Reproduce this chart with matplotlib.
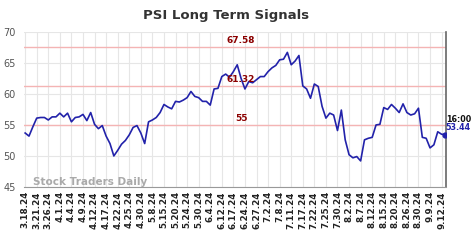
import matplotlib
matplotlib.use("Agg")
import matplotlib.pyplot as plt
import numpy as np

# signal values, one per data point
psi = [53.7, 53.2, 54.7, 56.1, 56.2, 56.2, 55.8, 56.3, 56.3, 56.9,
       56.3, 56.9, 55.5, 56.2, 56.3, 56.7, 55.7, 57.0, 55.1, 54.4,
       54.9, 53.2, 52.0, 50.0, 50.9, 51.9, 52.5, 53.4, 54.6, 54.9,
       53.7, 52.0, 55.5, 55.8, 56.2, 57.0, 58.3, 57.9, 57.6, 58.8,
       58.7, 59.0, 59.4, 60.4, 59.6, 59.4, 58.8, 58.8, 58.2, 60.8,
       60.9, 62.8, 63.2, 62.7, 63.6, 64.7, 62.5, 60.8, 62.0, 61.8,
       62.3, 62.8, 62.8, 63.6, 64.2, 64.6, 65.5, 65.6, 66.7, 64.7,
       65.3, 66.2, 61.3, 60.8, 59.3, 61.6, 61.2, 58.0, 56.1, 56.9,
       56.6, 54.1, 57.4, 52.6, 50.2, 49.7, 49.9, 49.2, 52.6, 52.85,
       53.0, 55.0, 55.1, 57.8, 57.5, 58.3, 57.7, 57.0, 58.4, 57.0,
       56.6, 56.8, 57.7, 53.0, 52.85, 51.3, 51.8, 53.9, 53.5, 53.44]

date_labels = ["3.18.24", "3.21.24", "3.26.24", "4.1.24", "4.4.24", "4.9.24",
               "4.12.24", "4.17.24", "4.22.24", "4.25.24", "4.30.24", "5.8.24",
               "5.15.24", "5.20.24", "5.24.24", "5.30.24", "6.4.24", "6.12.24",
               "6.17.24", "6.24.24", "6.27.24", "7.2.24", "7.8.24", "7.11.24",
               "7.17.24", "7.22.24", "7.25.24", "7.30.24", "8.2.24", "8.7.24",
               "8.12.24", "8.15.24", "8.20.24", "8.26.24", "8.30.24", "9.9.24",
               "9.12.24"]

levels = [67.58, 61.32, 55]
level_text = ["67.58", "61.32", "55"]
last_time = "16:00"

x = np.arange(len(psi))
tick_pos = np.arange(len(date_labels)) * 3

fig = plt.figure(figsize=(4.74, 2.40), dpi=100)
ax = fig.add_axes([0.0506, 0.221, 0.890, 0.646])

ax.set_xlim(-0.3, 109.1)
ax.set_ylim(45, 70)

ax.set_xticks(tick_pos)
ax.set_xticklabels(date_labels, rotation=90, fontsize=6.3, fontweight="bold", color="#222222")
ax.set_yticks([45, 50, 55, 60, 65, 70])
ax.set_yticklabels(["45", "50", "55", "60", "65", "70"], fontsize=7, color="#555555")
ax.tick_params(length=0, pad=3)
ax.tick_params(axis="y", pad=6)

ax.grid(True, color="#e6e6e6", lw=0.8)
ax.set_axisbelow(True)

for s in ["top", "left"]:
    ax.spines[s].set_visible(False)
ax.spines["bottom"].set_color("#999999")
ax.spines["right"].set_color("#666666")
ax.spines["right"].set_linewidth(1.2)

for lv, txt in zip(levels, level_text):
    ax.axhline(lv, color="#f4b4b4", lw=1.0, zorder=1)
    ax.text(56, lv + 0.35, txt, ha="center", va="bottom", fontsize=6.5,
            fontweight="bold", color="#8b0000", zorder=3)

ax.plot(x, psi, color="#2222aa", lw=1.2, zorder=2)
ax.plot(x[-1], psi[-1], "o", color="#2222aa", ms=3.5, zorder=4)

ax.text(x[-1] + 0.1, psi[-1] + 2.4, last_time, fontsize=5.8, fontweight="bold",
        color="#111111", ha="left", va="center", clip_on=False)
ax.text(x[-1] + 0.1, psi[-1] + 1.1, "%.2f" % psi[-1], fontsize=5.8, fontweight="bold",
        color="#2222aa", ha="left", va="center", clip_on=False)

ax.text(2, 45.05, "Stock Traders Daily", fontsize=7.5, fontweight="bold",
        color="#aaaaaa", ha="left", va="bottom")

fig.text(0.477, 0.935, "PSI Long Term Signals", ha="center", va="center",
         fontsize=9.5, fontweight="bold", color="#333333")

fig.savefig("out.png", dpi=100)
